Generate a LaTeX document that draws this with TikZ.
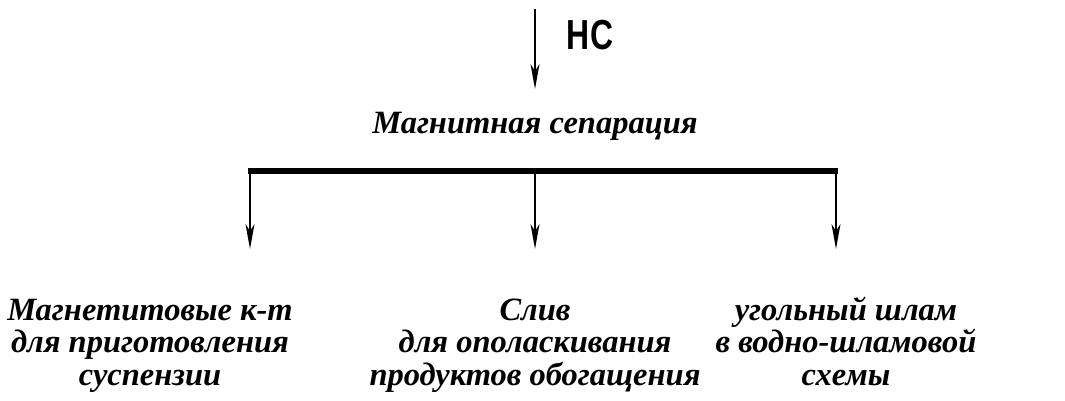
\documentclass[tikz,border=0pt]{standalone}
\usepackage{fontspec}
\setmainfont{Liberation Serif}
\newfontfamily\labelsans[FakeStretch=0.76]{Liberation Sans}
\usetikzlibrary{arrows.meta}
\begin{document}
\begin{tikzpicture}[x=1pt,y=-1pt,
  flow/.style={line width=1.4pt,-{Stealth[length=25pt,width=9pt,inset=7pt]}},
  bar/.style={line width=5.5pt},
  caption/.style={font=\fontsize{32.5}{32.5}\selectfont\bfseries\itshape,align=center,inner sep=0pt},
  tag/.style={font=\fontsize{42}{46}\selectfont\labelsans\bfseries,inner sep=0pt}]
\useasboundingbox (0,0) rectangle (1065,401);
% input stream
\coordinate (in) at (535,9);
\coordinate (sep) at (535,89);
\draw[flow] (in) -- (sep);
\node[tag,anchor=base] (hc) at (590,50) {НС};
% separator
\node[caption,anchor=base] (ms) at (535,134) {Магнитная сепарация};
\coordinate (bl) at (248,171);
\coordinate (bm) at (535,171);
\coordinate (br) at (838,171);
\draw[bar] (bl) -- (br);
% products
\coordinate (tl) at (250,249);
\coordinate (tm) at (535,249);
\coordinate (tr) at (836,249);
\draw[flow] ([yshift=-2pt]bl -| tl) -- (tl);
\draw[flow] (bm) -- (tm);
\draw[flow] ([yshift=-2pt]br -| tr) -- (tr);
\node[caption,anchor=base] (p1) at (150,385) {Магнетитовые к-т\\для приготовления\\суспензии};
\node[caption,anchor=base] (p2) at (535,385) {Слив\\для ополаскивания\\продуктов обогащения};
\node[caption,anchor=base] (p3) at (846,385) {угольный шлам\\в водно-шламовой\\схемы};
\end{tikzpicture}
\end{document}
